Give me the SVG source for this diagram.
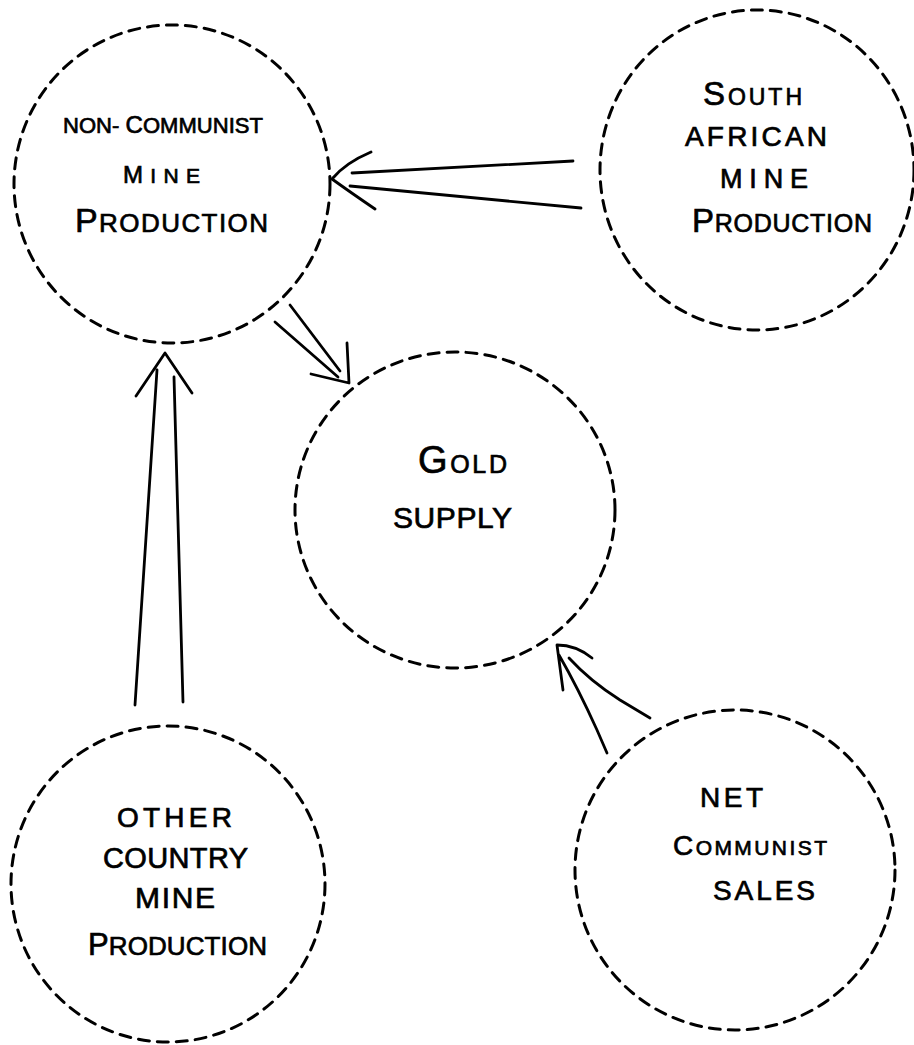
<svg xmlns="http://www.w3.org/2000/svg" width="914" height="1045" viewBox="0 0 914 1045">
<style>
.c{fill:none;stroke:#000;stroke-width:3;stroke-dasharray:11 8;stroke-linecap:round}
.a{fill:none;stroke:#000;stroke-width:2.8;stroke-linecap:round;stroke-linejoin:round}
.t{font-family:"Liberation Sans",Arial,sans-serif;fill:#000;stroke:#000;stroke-width:0.7}
</style>
<rect width="914" height="1045" fill="#fff"/>
<g id="non-communist">
<ellipse class="c" cx="172" cy="184" rx="158" ry="159"/>
<text class="t" x="63" y="133" font-size="22" textLength="200" lengthAdjust="spacing">NON- <tspan font-size="24">C</tspan>OMMUNIST</text>
<text class="t" x="123" y="183" font-size="21" textLength="77" lengthAdjust="spacing"><tspan font-size="24">M</tspan>INE</text>
<text class="t" x="75" y="232" font-size="26" textLength="193" lengthAdjust="spacing"><tspan font-size="34">P</tspan>RODUCTION</text>
</g>
<g id="south-african">
<ellipse class="c" cx="757" cy="170" rx="157" ry="160"/>
<text class="t" x="703" y="105" font-size="23" textLength="99" lengthAdjust="spacing"><tspan font-size="33">S</tspan>OUTH</text>
<text class="t" x="685" y="146" font-size="28" textLength="142" lengthAdjust="spacing">AFRICAN</text>
<text class="t" x="720" y="188" font-size="27" textLength="88" lengthAdjust="spacing">MINE</text>
<text class="t" x="692" y="232" font-size="25" textLength="180" lengthAdjust="spacing"><tspan font-size="33">P</tspan>RODUCTION</text>
</g>
<g id="gold-supply">
<ellipse class="c" cx="455" cy="510" rx="160" ry="158"/>
<text class="t" x="418" y="473" font-size="25" textLength="89" lengthAdjust="spacing"><tspan font-size="38">G</tspan>OLD</text>
<text class="t" x="393" y="528" font-size="30" textLength="119" lengthAdjust="spacing">SUPPLY</text>
</g>
<g id="other-country">
<ellipse class="c" cx="168" cy="884" rx="157" ry="158"/>
<text class="t" x="117" y="827" font-size="28" textLength="115" lengthAdjust="spacing">OTHER</text>
<text class="t" x="103" y="868" font-size="29" textLength="145" lengthAdjust="spacing">COUNTRY</text>
<text class="t" x="135" y="908" font-size="30" textLength="80" lengthAdjust="spacing">MINE</text>
<text class="t" x="88" y="955" font-size="26" textLength="179" lengthAdjust="spacing"><tspan font-size="31">P</tspan>RODUCTION</text>
</g>
<g id="net-communist">
<ellipse class="c" cx="735" cy="870" rx="160" ry="160"/>
<text class="t" x="700" y="807" font-size="28" textLength="63" lengthAdjust="spacing">NET</text>
<text class="t" x="673" y="855" font-size="21" textLength="154" lengthAdjust="spacing"><tspan font-size="28">C</tspan>OMMUNIST</text>
<text class="t" x="713" y="900" font-size="28" textLength="102" lengthAdjust="spacing">SALES</text>
</g>
<g id="connectors">
<path class="a" d="M352 173 L573 161 M350 186 L581 208 M371 152 Q345 163 332 179 Q350 192 375 209"/>
<path class="a" d="M290 305 L340 371 M275 322 L338 377 M347 343 L349 383 L311 374"/>
<path class="a" d="M157 370 L135 705 M174 377 L183 702 M136 396 L165 353 L192 393"/>
<path class="a" d="M563 690 L557 645 Q576 645 592 658 M559 655 Q578 688 597 730 L607 753 M569 658 Q590 681 620 700 L650 718"/>
</g>
</svg>
